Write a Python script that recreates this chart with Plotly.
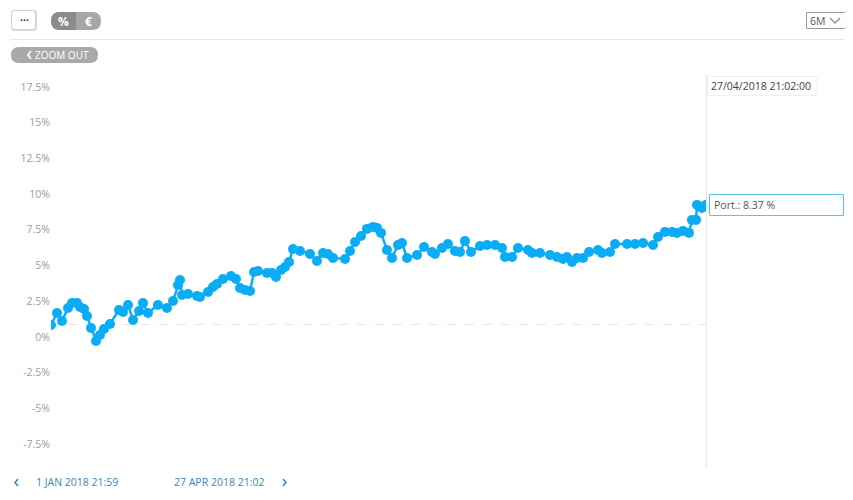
import plotly.graph_objects as go
import pandas as pd

# ---- data ----
start_time = "2018-01-01 21:59"
day_offsets = [0, 1.06, 1.95, 3.01, 3.72, 4.60, 5.13, 5.84, 6.37, 7.08, 7.97, 8.67, 9.38, 10.45,
               12.04, 12.75, 13.63, 14.52, 15.58, 16.29, 17.17, 18.94, 20.53, 21.60, 22.48, 22.84,
               23.19, 24.25, 25.85, 26.38, 27.80, 28.68, 29.39, 30.45, 31.87, 32.75, 33.46, 34.35,
               35.23, 35.94, 36.65, 38.24, 39.13, 39.83, 40.72, 41.43, 42.14, 42.84, 44.08, 45.85,
               47.09, 48.16, 49.04, 49.93, 52.05, 52.94, 53.82, 54.88, 55.94, 57.01, 57.72, 58.42,
               59.48, 60.37, 61.43, 62.14, 63.03, 64.80, 66.04, 67.45, 67.98, 69.22, 70.28, 71.52,
               72.41, 73.29, 74.36, 75.95, 77.19, 78.61, 79.85, 80.38, 81.62, 82.68, 84.45, 85.16,
               86.57, 88.34, 89.58, 90.64, 91.35, 92.24, 93.12, 94.19, 95.25, 96.84, 97.55, 98.97,
               99.85, 101.98, 103.39, 104.81, 106.58, 107.46, 108.70, 109.94, 110.83, 111.89,
               112.95, 113.48, 114.19, 114.37, 115.25, 115.96]
portfolio_pct = [0.84, 1.68, 1.12, 2.03, 2.38, 2.38, 2.10, 1.96, 1.47, 0.63, -0.28, 0.14, 0.56, 0.91,
                 1.89, 1.75, 2.24, 1.19, 1.82, 2.38, 1.68, 2.24, 2.03, 2.52, 3.64, 3.99,
                 2.94, 3.01, 2.87, 2.80, 3.15, 3.50, 3.71, 4.06, 4.27, 4.06, 3.43, 3.29,
                 3.22, 4.55, 4.62, 4.48, 4.48, 4.20, 4.69, 4.90, 5.25, 6.16, 6.02, 5.81,
                 5.32, 5.88, 5.81, 5.53, 5.46, 6.02, 6.65, 7.07, 7.56, 7.70, 7.63, 7.28,
                 6.09, 5.53, 6.44, 6.58, 5.53, 5.74, 6.30, 5.95, 5.81, 6.23, 6.51, 6.02,
                 5.95, 6.72, 5.95, 6.37, 6.44, 6.44, 6.23, 5.60, 5.60, 6.23, 6.09, 5.88,
                 5.88, 5.74, 5.60, 5.46, 5.60, 5.25, 5.53, 5.53, 5.95, 6.09, 5.88, 5.95,
                 6.51, 6.51, 6.51, 6.58, 6.44, 7.00, 7.35, 7.35, 7.28, 7.42,
                 7.28, 8.19, 8.19, 9.24, 9.03, 9.24]
baseline_pct = 0.88
ytick_vals = [-7.5, -5, -2.5, 0, 2.5, 5, 7.5, 10, 12.5, 15, 17.5]
ytick_text = ["-7.5%", "-5%", "-2.5%", "0%", "2.5%", "5%", "7.5%", "10%", "12.5%", "15%", "17.5%"]
y_range = [-9.1, 18.33]
crosshair_time = "27/04/2018 21:02:00"
tooltip_text = "Port.: 8.37 %"
range_start_label = "1 JAN 2018 21:59"
range_end_label = "27 APR 2018 21:02"

dates = pd.Timestamp(start_time) + pd.to_timedelta(day_offsets, unit="D")

# ---- layout geometry (reference pixel coords; page body adds an 8px offset) ----
OFF = 8
W, H = 853 - OFF, 500 - OFF
L, R, T, B = 51, 706, 75, 467

def px(x):
    return (x - L) / (R - L)

def py(y):
    return (B - y) / (B - T)

def rrect(x0, y0, x1, y1, r):
    pts = [("M", x0 + r, y0), ("L", x1 - r, y0), ("Q", x1, y0, x1, y0 + r), ("L", x1, y1 - r),
           ("Q", x1, y1, x1 - r, y1), ("L", x0 + r, y1), ("Q", x0, y1, x0, y1 - r),
           ("L", x0, y0 + r), ("Q", x0, y0, x0 + r, y0)]
    s = ""
    for p in pts:
        if p[0] == "Q":
            s += f"Q{px(p[1]):.5f},{py(p[2]):.5f} {px(p[3]):.5f},{py(p[4]):.5f} "
        else:
            s += f"{p[0]}{px(p[1]):.5f},{py(p[2]):.5f} "
    return s + "Z"

def poly(points):
    s = ""
    for i, (x, y) in enumerate(points):
        s += ("M" if i == 0 else "L") + f"{px(x):.5f},{py(y):.5f} "
    return s

BLUE = "#0aadf5"
FONT = "Open Sans"

fig = go.Figure()
fig.add_trace(go.Scatter(
    x=dates, y=portfolio_pct, mode="lines+markers",
    line=dict(color=BLUE, width=2.5),
    marker=dict(color=BLUE, size=10, line=dict(width=0)),
    hoverinfo="skip", showlegend=False,
))

shapes = []
shapes.append(dict(type="line", xref="paper", yref="paper", x0=px(10), x1=px(847), y0=py(3.5), y1=py(3.5),
                   line=dict(color="#e6e6e6", width=1)))
shapes.append(dict(type="line", xref="paper", yref="paper", x0=px(10), x1=px(847), y0=py(39.5), y1=py(39.5),
                   line=dict(color="#e6e6e6", width=1)))
shapes.append(dict(type="path", xref="paper", yref="paper", path=rrect(11, 10, 37, 31, 3),
                   fillcolor="#dcdcdc", line=dict(width=0)))
shapes.append(dict(type="path", xref="paper", yref="paper", path=rrect(11.5, 10.5, 35.5, 29.5, 3),
                   fillcolor="white", line=dict(color="#cfcfcf", width=1)))
shapes.append(dict(type="path", xref="paper", yref="paper", path=rrect(51, 12, 101, 30, 9),
                   fillcolor="#a7a7a7", line=dict(width=0)))
shapes.append(dict(type="path", xref="paper", yref="paper",
                   path=(f"M{px(76):.5f},{py(12):.5f} L{px(60):.5f},{py(12):.5f} "
                         f"Q{px(51):.5f},{py(12):.5f} {px(51):.5f},{py(21):.5f} "
                         f"Q{px(51):.5f},{py(30):.5f} {px(60):.5f},{py(30):.5f} "
                         f"L{px(76):.5f},{py(30):.5f} Z"),
                   fillcolor="#8b8b8b", line=dict(width=0)))
shapes.append(dict(type="rect", xref="paper", yref="paper", x0=px(806.5), x1=px(846.5), y0=py(12.5), y1=py(28.5),
                   fillcolor="white", line=dict(color="#9a9a9a", width=1)))
shapes.append(dict(type="path", xref="paper", yref="paper", path=poly([(830, 18), (835, 23), (840, 18)]),
                   line=dict(color="#7f98aa", width=1.5)))
shapes.append(dict(type="path", xref="paper", yref="paper", path=rrect(11, 47, 98, 63, 8),
                   fillcolor="#a9a9a9", line=dict(width=0)))
shapes.append(dict(type="path", xref="paper", yref="paper", path=poly([(31, 51), (28, 55), (31, 59)]),
                   line=dict(color="white", width=1.6)))
shapes.append(dict(type="line", xref="paper", yref="paper", x0=px(706.5), x1=px(706.5), y0=py(75), y1=py(467),
                   line=dict(color="#e3e8ec", width=1)))
shapes.append(dict(type="line", xref="paper", yref="y", x0=0, x1=1, y0=baseline_pct, y1=baseline_pct,
                   line=dict(color="#e4e4e4", width=1, dash="dash"), layer="below"))
shapes.append(dict(type="rect", xref="paper", yref="paper", x0=px(707.5), x1=px(817.5), y0=py(76.5), y1=py(95.5),
                   fillcolor="white", line=dict(color="#f0f0f0", width=1)))
shapes.append(dict(type="rect", xref="paper", yref="paper", x0=px(709.5), x1=px(843.5), y0=py(194.5), y1=py(215.5),
                   fillcolor="white", line=dict(color="#5cc2f2", width=1)))
shapes.append(dict(type="path", xref="paper", yref="paper", path=poly([(18, 479), (15, 482.5), (18, 486)]),
                   line=dict(color="#3a87b5", width=1.5)))
shapes.append(dict(type="path", xref="paper", yref="paper", path=poly([(283, 479), (286, 482.5), (283, 486)]),
                   line=dict(color="#3a87b5", width=1.5)))

ann = []
def text(x, y, s, size=11, color="#444", anchor="left", bold=False):
    ann.append(dict(xref="paper", yref="paper", x=px(x), y=py(y), text=(f"<b>{s}</b>" if bold else s),
                    showarrow=False, xanchor=anchor, yanchor="middle",
                    font=dict(family=FONT, size=size, color=color)))

text(24, 19.5, "•••", size=8, color="#333", anchor="center")
text(63.5, 21, "%", size=12, color="white", anchor="center", bold=True)
text(88, 21, "€", size=12, color="white", anchor="center", bold=True)
text(808, 20.5, "6M", size=10.5, color="#555")
text(33, 55, "ZOOM OUT", size=10, color="white")
text(709, 86, crosshair_time, size=10.5, color="#3e3e48")
text(712, 205, tooltip_text, size=10.5, color="#555")
text(34, 482.5, range_start_label, size=10.5, color="#3a87b5")
text(172, 482.5, range_end_label, size=10.5, color="#3a87b5")

fig.update_layout(
    width=W, height=H,
    margin=dict(l=L - OFF, r=853 - R, t=T - OFF, b=500 - B, pad=0),
    paper_bgcolor="white", plot_bgcolor="white",
    shapes=shapes, annotations=ann,
    xaxis=dict(range=[dates[0], dates[-1]], showgrid=False, zeroline=False, showticklabels=False,
               showline=False, ticks=""),
    yaxis=dict(range=y_range, tickvals=ytick_vals, ticktext=ytick_text, showgrid=False, zeroline=False,
               showline=False, ticks="", ticklabelstandoff=0,
               tickfont=dict(family=FONT, size=10.5, color="#a09b96")),
    font=dict(family=FONT),
    hovermode=False,
)

fig.write_html("out.html")
